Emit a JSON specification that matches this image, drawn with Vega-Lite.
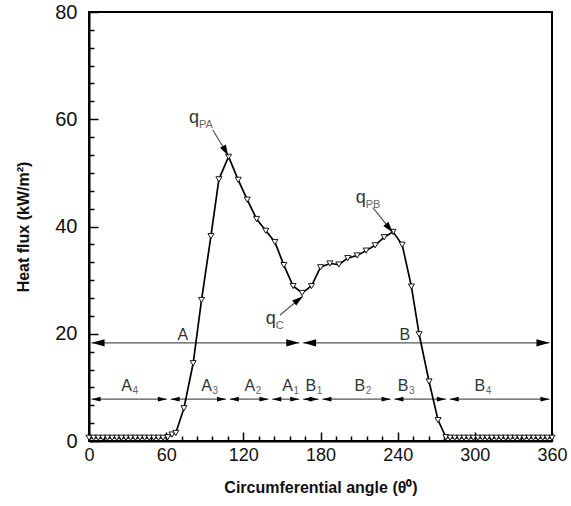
{
  "$schema": "https://vega.github.io/schema/vega-lite/v6.json",
  "width": 463,
  "height": 429,
  "autosize": {"type": "none"},
  "padding": {"left": 89, "top": 12, "right": 19, "bottom": 65},
  "background": "white",
  "config": {
    "view": {"stroke": "black", "strokeWidth": 2},
    "font": "Liberation Sans"
  },
  "datasets": {
    "curve": [
      {"x": 0, "y": 0.6}, {"x": 3.6, "y": 0.6}, {"x": 7.2, "y": 0.6}, {"x": 10.8, "y": 0.6},
      {"x": 14.4, "y": 0.6}, {"x": 18, "y": 0.6}, {"x": 21.6, "y": 0.6}, {"x": 25.2, "y": 0.6},
      {"x": 28.8, "y": 0.6}, {"x": 32.4, "y": 0.6}, {"x": 36, "y": 0.6}, {"x": 39.6, "y": 0.6},
      {"x": 43.2, "y": 0.6}, {"x": 46.8, "y": 0.6}, {"x": 50.4, "y": 0.6}, {"x": 54, "y": 0.6},
      {"x": 57.6, "y": 0.6}, {"x": 61.2, "y": 0.7}, {"x": 64.5, "y": 1.2}, {"x": 67.5, "y": 1.5},
      {"x": 73.8, "y": 6.1}, {"x": 81, "y": 14.5}, {"x": 87.5, "y": 26.3}, {"x": 94.8, "y": 38.2},
      {"x": 101, "y": 48.8}, {"x": 108.5, "y": 53.0}, {"x": 116, "y": 48.7}, {"x": 123, "y": 45},
      {"x": 130.3, "y": 41.4}, {"x": 137.5, "y": 39.2}, {"x": 144.5, "y": 37.1}, {"x": 151.5, "y": 32.8},
      {"x": 158.7, "y": 28.9}, {"x": 165.7, "y": 27.6}, {"x": 173, "y": 28.9}, {"x": 180, "y": 32.4},
      {"x": 187.3, "y": 33.1}, {"x": 194.3, "y": 32.9}, {"x": 201.2, "y": 34.1}, {"x": 208.5, "y": 34.6},
      {"x": 215.5, "y": 35.5}, {"x": 222.5, "y": 36.5}, {"x": 229.5, "y": 38}, {"x": 236.4, "y": 39},
      {"x": 243.5, "y": 36.6}, {"x": 250.7, "y": 28.8}, {"x": 256.7, "y": 19.9}, {"x": 264.4, "y": 11.1},
      {"x": 271.4, "y": 3.9}, {"x": 277.5, "y": 0.7}, {"x": 280.8, "y": 0.6}, {"x": 284.4, "y": 0.6},
      {"x": 288, "y": 0.6}, {"x": 291.6, "y": 0.6}, {"x": 295.2, "y": 0.6}, {"x": 298.8, "y": 0.6},
      {"x": 302.4, "y": 0.6}, {"x": 306, "y": 0.6}, {"x": 309.6, "y": 0.6}, {"x": 313.2, "y": 0.6},
      {"x": 316.8, "y": 0.6}, {"x": 320.4, "y": 0.6}, {"x": 324, "y": 0.6}, {"x": 327.6, "y": 0.6},
      {"x": 331.2, "y": 0.6}, {"x": 334.8, "y": 0.6}, {"x": 338.4, "y": 0.6}, {"x": 342, "y": 0.6},
      {"x": 345.6, "y": 0.6}, {"x": 349.2, "y": 0.6}, {"x": 352.8, "y": 0.6}, {"x": 356.4, "y": 0.6},
      {"x": 360, "y": 0.6}
    ],
    "bounds": [
      {"x": 62}, {"x": 108}, {"x": 141}, {"x": 165}, {"x": 180}, {"x": 236}, {"x": 279}
    ],
    "spans": [
      {"x": 2, "x2": 163.5, "y": 18.3, "kind": "big"},
      {"x": 166.5, "x2": 358, "y": 18.3, "kind": "big"},
      {"x": 2, "x2": 60.5, "y": 7.8, "kind": "small"},
      {"x": 63.5, "x2": 106.5, "y": 7.8, "kind": "small"},
      {"x": 109.5, "x2": 139.5, "y": 7.8, "kind": "small"},
      {"x": 142.5, "x2": 163.5, "y": 7.8, "kind": "small"},
      {"x": 166.5, "x2": 178.5, "y": 7.8, "kind": "small"},
      {"x": 181.5, "x2": 234.5, "y": 7.8, "kind": "small"},
      {"x": 237.5, "x2": 277.5, "y": 7.8, "kind": "small"},
      {"x": 280.5, "x2": 358, "y": 7.8, "kind": "small"}
    ],
    "regions": [
      {"x": 73, "y": 18.8, "t": "A", "s": ""},
      {"x": 245.5, "y": 18.8, "t": "B", "s": ""},
      {"x": 29.2, "y": 9.4, "t": "A", "s": "4"},
      {"x": 91.4, "y": 9.4, "t": "A", "s": "3"},
      {"x": 125, "y": 9.4, "t": "A", "s": "2"},
      {"x": 154.4, "y": 9.4, "t": "A", "s": "1"},
      {"x": 172.5, "y": 9.4, "t": "B", "s": "1"},
      {"x": 210.5, "y": 9.4, "t": "B", "s": "2"},
      {"x": 244.2, "y": 9.4, "t": "B", "s": "3"},
      {"x": 303.8, "y": 9.4, "t": "B", "s": "4"}
    ],
    "pointers": [
      {"x": 96.3, "y": 58, "x2": 108.3, "y2": 53.2, "angle": 61, "lx": 81.6, "ly": 59.3, "s": "PA"},
      {"x": 220.7, "y": 43.5, "x2": 236.2, "y2": 38.9, "angle": 51, "lx": 211.3, "ly": 44.4, "s": "PB"},
      {"x": 148.5, "y": 23.5, "x2": 166.3, "y2": 27.0, "angle": 322, "lx": 141.4, "ly": 21.8, "s": "C"}
    ]
  },
  "encoding": {
    "x": {
      "field": "x",
      "type": "quantitative",
      "scale": {"domain": [0, 360], "nice": false, "zero": false},
      "axis": {
        "title": "Circumferential angle (θ⁰)",
        "values": [0, 12, 24, 36, 48, 60, 72, 84, 96, 108, 120, 132, 144, 156, 168, 180, 192, 204, 216, 228, 240, 252, 264, 276, 288, 300, 312, 324, 336, 348, 360],
        "labelExpr": "datum.value % 60 === 0 ? datum.label : ''",
        "tickSize": {"condition": {"test": "datum.value % 60 === 0", "value": -9}, "value": -5},
        "tickColor": "black",
        "tickWidth": 1.5,
        "domainColor": "black",
        "domainWidth": 2,
        "grid": false,
        "labelFont": "Liberation Sans",
        "labelFontSize": 18,
        "labelColor": "#111",
        "labelPadding": 14,
        "labelFlush": false,
        "labelOverlap": false,
        "titleFont": "Liberation Sans",
        "titleFontSize": 16,
        "titleFontWeight": "bold",
        "titleColor": "#111",
        "titlePadding": 11
      }
    },
    "y": {
      "field": "y",
      "type": "quantitative",
      "scale": {"domain": [0, 80], "nice": false},
      "axis": {
        "title": "Heat flux (kW/m²)",
        "values": [0, 3.3333, 6.6667, 10, 13.3333, 16.6667, 20, 23.3333, 26.6667, 30, 33.3333, 36.6667, 40, 43.3333, 46.6667, 50, 53.3333, 56.6667, 60, 63.3333, 66.6667, 70, 73.3333, 76.6667, 80],
        "labelExpr": "datum.value % 20 === 0 ? datum.label : ''",
        "tickSize": {"condition": {"test": "datum.value % 20 === 0", "value": -9}, "value": -5},
        "tickColor": "black",
        "tickWidth": 1.5,
        "domainColor": "black",
        "domainWidth": 2,
        "grid": false,
        "labelFont": "Liberation Sans",
        "labelFontSize": 20,
        "labelColor": "#111",
        "labelPadding": 21,
        "labelFlush": false,
        "labelOverlap": false,
        "titleFont": "Liberation Sans",
        "titleFontSize": 16,
        "titleFontWeight": "bold",
        "titleColor": "#111",
        "titlePadding": 23
      }
    }
  },
  "layer": [
    {
      "data": {"name": "bounds"},
      "mark": {"type": "rule", "color": "black", "strokeWidth": 1.8, "strokeDash": [4, 3]},
      "encoding": {"y": {"datum": 0}, "y2": {"datum": 79.3}}
    },
    {
      "data": {"name": "spans"},
      "mark": {"type": "rule", "color": "#555", "strokeWidth": 1.2},
      "encoding": {"x2": {"field": "x2"}}
    },
    {
      "data": {"name": "spans"},
      "mark": {"type": "point", "shape": "M0,0L1,-0.27L1,0.27Z", "filled": true, "color": "black", "opacity": 1},
      "encoding": {
        "size": {"condition": {"test": "datum.kind === 'big'", "value": 676}, "value": 324}
      }
    },
    {
      "data": {"name": "spans"},
      "mark": {"type": "point", "shape": "M0,0L-1,-0.27L-1,0.27Z", "filled": true, "color": "black", "opacity": 1},
      "encoding": {
        "x": {"field": "x2", "type": "quantitative"},
        "size": {"condition": {"test": "datum.kind === 'big'", "value": 676}, "value": 324}
      }
    },
    {
      "data": {"name": "curve"},
      "mark": {"type": "line", "color": "black", "strokeWidth": 1.7}
    },
    {
      "data": {"name": "curve"},
      "mark": {"type": "point", "shape": "triangle-down", "filled": true, "fill": "white", "stroke": "black", "strokeWidth": 0.9, "size": 36, "opacity": 1}
    },
    {
      "data": {"name": "pointers"},
      "mark": {"type": "rule", "color": "#555", "strokeWidth": 1.2},
      "encoding": {"x2": {"field": "x2"}, "y2": {"field": "y2"}}
    },
    {
      "data": {"name": "pointers"},
      "mark": {"type": "point", "shape": "M0,0L-1,-0.3L-1,0.3Z", "filled": true, "color": "black", "opacity": 1, "size": 484},
      "encoding": {
        "x": {"field": "x2", "type": "quantitative"},
        "y": {"field": "y2", "type": "quantitative"},
        "angle": {"field": "angle", "type": "quantitative", "scale": null}
      }
    },
    {
      "data": {"name": "pointers"},
      "mark": {"type": "text", "text": "q", "fontSize": 18, "color": "#333", "align": "center", "baseline": "alphabetic"},
      "encoding": {
        "x": {"field": "lx", "type": "quantitative"},
        "y": {"field": "ly", "type": "quantitative"}
      }
    },
    {
      "data": {"name": "pointers"},
      "mark": {"type": "text", "fontSize": 11, "color": "#666", "align": "left", "baseline": "alphabetic", "dx": 5, "dy": 5},
      "encoding": {
        "x": {"field": "lx", "type": "quantitative"},
        "y": {"field": "ly", "type": "quantitative"},
        "text": {"field": "s"}
      }
    },
    {
      "data": {"name": "regions"},
      "mark": {"type": "text", "fontSize": 16, "color": "#333", "align": "center", "baseline": "alphabetic"},
      "encoding": {"text": {"field": "t"}}
    },
    {
      "data": {"name": "regions"},
      "mark": {"type": "text", "fontSize": 10, "color": "#666", "align": "left", "baseline": "alphabetic", "dx": 6, "dy": 3},
      "encoding": {"text": {"field": "s"}}
    }
  ]
}
